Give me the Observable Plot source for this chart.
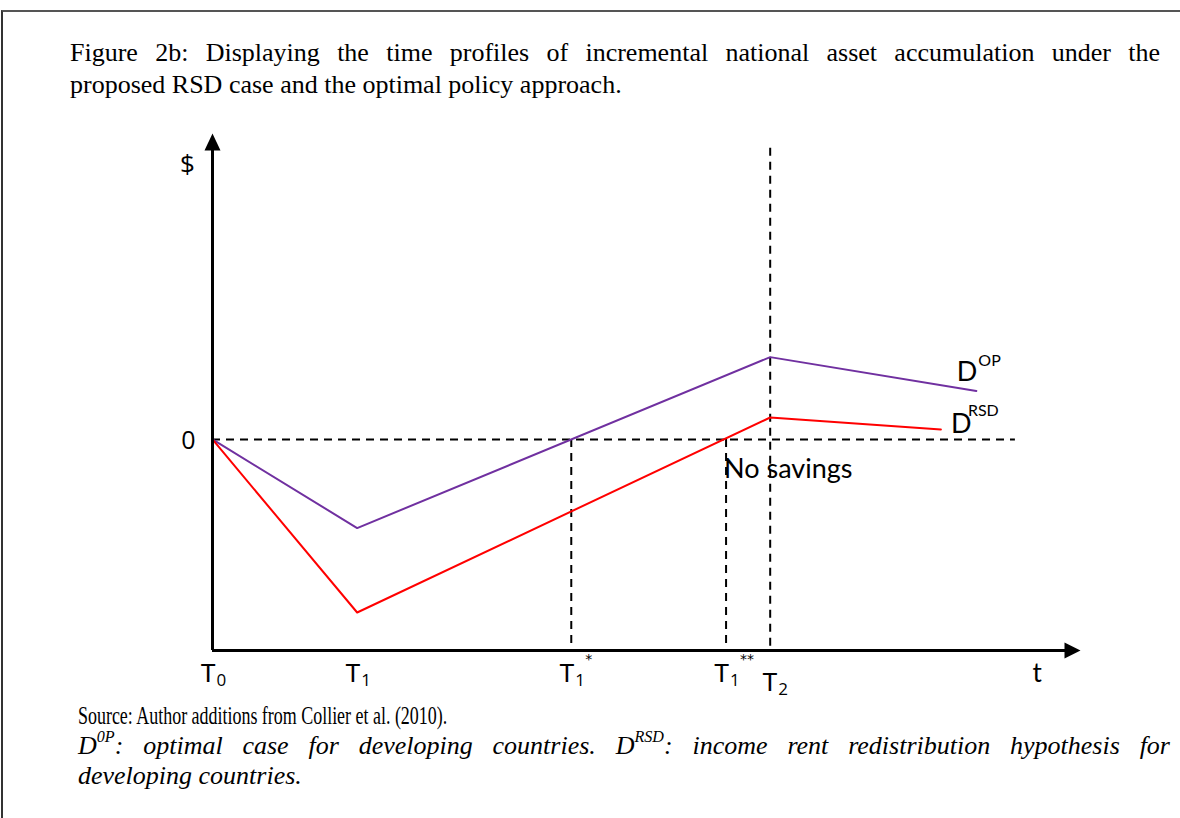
<!DOCTYPE html>
<html>
<head>
<meta charset="utf-8">
<script src="https://cdn.jsdelivr.net/npm/d3@7"></script>
<script src="https://cdn.jsdelivr.net/npm/@observablehq/plot@0.6"></script>
<style>
  html, body { margin: 0; padding: 0; background: #fff; width: 1180px; height: 818px; overflow: hidden; }
  #frame { position: absolute; left: 1px; top: 10px; width: 1300px; height: 900px;
           border-top: 2px solid #555; border-left: 2px solid #333; }
  #title { position: absolute; left: 70px; top: 37px; width: 1090px;
           font-family: "Liberation Serif", "Times New Roman", serif; font-size: 26px;
           line-height: 32px; color: #000; }
  .just { text-align: justify; text-align-last: justify; white-space: nowrap; }
  #chart { position: absolute; left: 0; top: 120px; }
  #caption { position: absolute; left: 78px; top: 701px; width: 1092px;
             font-family: "Liberation Serif", "Times New Roman", serif; font-size: 26px;
             line-height: 30px; color: #000; }
  #source { display: inline-block; white-space: nowrap; transform: scaleX(0.69); transform-origin: 0 0; }
  #note { font-style: italic; }
  #note sup { font-size: 62%; line-height: 0; vertical-align: 0.75em; }
  #note .just { white-space: normal; }
</style>
</head>
<body>
<div id="frame"></div>
<div id="title">
  <div class="just">Figure 2b: Displaying the time profiles of incremental national asset accumulation under the</div>
  <div>proposed RSD case and the optimal policy approach.</div>
</div>
<div id="chart"></div>
<div id="caption">
  <div id="source">Source: Author additions from Collier et al. (2010).</div>
  <div id="note">
    <div class="just">D<sup>0P</sup>: optimal case for developing countries. D<sup>RSD</sup>: income rent redistribution hypothesis for</div>
    <div>developing countries.</div>
  </div>
</div>
<script>
// ---- data (arbitrary units) ----
const tickNames = ["T0", "T1", "T1*", "T1**", "T2"];
const tickTimes = [0, 2.0, 4.96, 7.1, 7.71];
const tickSubs  = ["0", "1", "1", "1", "2"];
const tickSups  = ["", "", "*", "**", ""];

const opTimes  = [0, 2.0, 7.71, 10.56];
const opValues = [0, -4.2, 3.9, 2.3];
const rsdTimes  = [0, 2.0, 7.71, 10.07];
const rsdValues = [0, -8.2, 1.04, 0.47];

const xDomain = [0, 12];
const yDomain = [-10, 14.4];
const zeroLineEnd = 11.1;
const t2LineTop = 13.8;
const axisTimeLabel = 11.4;
const dollarLevel = 13.0;

// ---- derived tables ----
const op = opTimes.map((t, i) => ({t, v: opValues[i]}));
const rsd = rsdTimes.map((t, i) => ({t, v: rsdValues[i]}));
const ticks = tickNames.map((n, i) => ({name: n, t: tickTimes[i], sub: tickSubs[i], sup: tickSups[i]}));
const ticksMain = ticks.filter(d => d.name !== "T2");
const ticksLow = ticks.filter(d => d.name === "T2");
const opEnd = [op[op.length - 1]];
const rsdEnd = [rsd[rsd.length - 1]];

const sans = "Lato, 'Open Sans', sans-serif";
const subFont = "'Open Sans', Lato, sans-serif";
const starFont = "'DejaVu Sans', sans-serif";
const purple = "#7030A0";
const red = "#FF0000";

const upTriangle = { draw(ctx) { ctx.moveTo(0, -2); ctx.lineTo(8, 15); ctx.lineTo(-8, 15); ctx.closePath(); } };
const rightTriangle = { draw(ctx) { ctx.moveTo(0, 0); ctx.lineTo(-16, 8); ctx.lineTo(-16, -8); ctx.closePath(); } };

const dash = "8,6";
const yMin = yDomain[0], yMax = yDomain[1];

const chart = Plot.plot({
  width: 1180,
  height: 580,
  marginLeft: 212,
  marginRight: 100,
  marginTop: 15,
  marginBottom: 50,
  x: {domain: xDomain, axis: null},
  y: {domain: yDomain, axis: null},
  style: {background: "transparent", overflow: "visible"},
  marks: [
    // dashed guides
    Plot.ruleY([0], {x1: 0, x2: zeroLineEnd, stroke: "black", strokeWidth: 2, strokeDasharray: dash}),
    Plot.ruleX([tickTimes[2], tickTimes[3]], {y1: 0, y2: yMin, stroke: "black", strokeWidth: 2, strokeDasharray: dash}),
    Plot.ruleX([tickTimes[4]], {y1: t2LineTop, y2: yMin, stroke: "black", strokeWidth: 2, strokeDasharray: dash}),
    // series
    Plot.line(op, {x: "t", y: "v", stroke: purple, strokeWidth: 2}),
    Plot.line(rsd, {x: "t", y: "v", stroke: red, strokeWidth: 2}),
    // axes
    Plot.ruleX([0], {y1: yMin, y2: yMax - 0.5, stroke: "black", strokeWidth: 3}),
    Plot.ruleY([yMin], {x1: 0, x2: xDomain[1] - 0.15, stroke: "black", strokeWidth: 3}),
    Plot.dot([{t: 0, v: yMax}], {x: "t", y: "v", symbol: upTriangle, fill: "black", stroke: "none", r: 8}),
    Plot.dot([{t: xDomain[1], v: yMin}], {x: "t", y: "v", symbol: rightTriangle, fill: "black", stroke: "none", r: 8}),
    // axis labels
    Plot.text(["$"], {x: 0, y: dollarLevel, text: d => d, dx: -25, fontSize: 26, fontFamily: subFont, fill: "black"}),
    Plot.text(["0"], {x: 0, y: 0, text: d => d, dx: -24, dy: 2, fontSize: 25, fontFamily: subFont, fill: "black"}),
    Plot.text(["t"], {x: axisTimeLabel, y: yMin, text: d => d, dy: 23, fontSize: 26, fontFamily: sans, fill: "black"}),
    Plot.text(["No savings"], {x: tickTimes[3], y: 0, text: d => d, dx: -2, dy: 30, textAnchor: "start", fontSize: 27, fontFamily: sans, fill: "black"}),
    // tick labels T with subscripts / superscripts
    Plot.text(ticksMain, {x: "t", y: yMin, text: () => "T", textAnchor: "end", dx: 3, dy: 23, fontSize: 25, fontFamily: sans, fill: "black"}),
    Plot.text(ticksMain, {x: "t", y: yMin, text: "sub", textAnchor: "start", dx: 4, dy: 30, fontSize: 17, fontFamily: subFont, fill: "black"}),
    Plot.text(ticksMain, {x: "t", y: yMin, text: "sup", textAnchor: "start", dx: 14, dy: 9, fontSize: 14, fontFamily: starFont, fill: "black"}),
    Plot.text(ticksLow, {x: "t", y: yMin, text: () => "T", textAnchor: "end", dx: 7, dy: 32, fontSize: 25, fontFamily: sans, fill: "black"}),
    Plot.text(ticksLow, {x: "t", y: yMin, text: "sub", textAnchor: "start", dx: 8, dy: 39, fontSize: 17, fontFamily: subFont, fill: "black"}),
    // series labels
    Plot.text(opEnd, {x: "t", y: "v", text: () => "D", textAnchor: "end", dx: 1, dy: -19, fontSize: 27, fontFamily: sans, fill: "black"}),
    Plot.text(opEnd, {x: "t", y: "v", text: () => "OP", textAnchor: "start", dx: 2, dy: -30, fontSize: 16, fontFamily: sans, fill: "black"}),
    Plot.text(rsdEnd, {x: "t", y: "v", text: () => "D", textAnchor: "start", dx: 10, dy: -5, fontSize: 27, fontFamily: sans, fill: "black"}),
    Plot.text(rsdEnd, {x: "t", y: "v", text: () => "RSD", textAnchor: "start", dx: 27, dy: -19, fontSize: 16, fontFamily: sans, fill: "black"})
  ]
});
document.getElementById("chart").appendChild(chart);
</script>
</body>
</html>
